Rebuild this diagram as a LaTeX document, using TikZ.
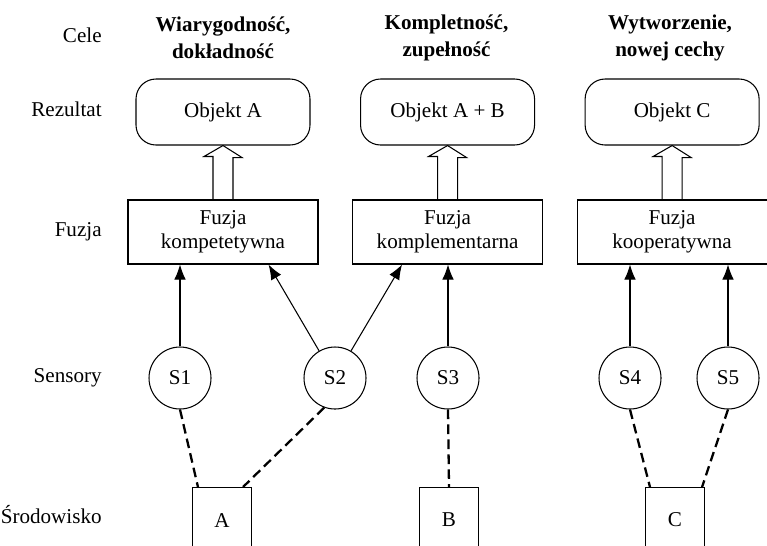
\documentclass[tikz,border=0pt]{standalone}
\usepackage{fontspec}
\setmainfont{Liberation Serif}
\usetikzlibrary{chains,arrows.meta}

\begin{document}
\begin{tikzpicture}[semithick, font=\fontsize{12}{13.5}\selectfont,
  resultnode/.style={draw,rounded corners=0.4cm,minimum width=3.48cm,minimum height=1.32cm},
  fusionnode/.style={draw,minimum width=3.8cm,minimum height=1.28cm,align=center},
  sensornode/.style={draw,circle,minimum size=1.24cm,inner sep=0pt},
  envnode/.style={draw,minimum width=1.18cm,minimum height=1.3cm,anchor=north},
  goalnode/.style={font=\fontsize{12}{15.4}\selectfont\bfseries,align=center},
  levelnode/.style={anchor=east,text height=1.6ex,text depth=0.4ex},
  sensorarrow/.style={-{Latex[length=3mm,width=2.3mm]}},
  envlink/.style={line width=1.3pt,dash pattern=on 5.5pt off 3pt}
]

\useasboundingbox (0,0) rectangle (15.34,-10.9);
\clip (0,0) rectangle (15.34,-10.9);

% the levels
\foreach \n/\y/\t in {cel/-0.76/Cele, rez/-2.24/Rezultat, fuz/-4.64/Fuzja,
                      sen/-7.56/Sensory, sro/-10.38/Środowisko}
    \node[levelnode] (\n) at (2.16,\y) {\t};

% the goals
\node[goalnode] (g1) at (4.46,-0.76) {Wiarygodność,\\dokładność};
\node[goalnode] (g2) at (8.93,-0.76) {Kompletność,\\zupełność};
\node[goalnode] (g3) at (13.40,-0.76) {Wytworzenie,\\nowej cechy};

% the results
\begin{scope}[xshift=4.46cm, yshift=-2.24cm, start chain=going right, node distance=0.99cm]
\foreach \i/\t in {1/Objekt A, 2/Objekt A + B, 3/Objekt C}
    \node[resultnode,on chain] (r\i) {\t};
\end{scope}

% the fusions
\begin{scope}[xshift=4.46cm, yshift=-4.64cm, start chain=going right, node distance=0.67cm]
\foreach \i/\t in {1/kompetetywna, 2/komplementarna, 3/kooperatywna}
    \node[fusionnode,on chain] (f\i) {Fuzja\\\t};
\end{scope}

% the hollow arrows
\foreach \i in {1,2,3}
    \draw ([xshift=-0.2cm]f\i.north) -- ++(0,0.86) -- ++(-0.18,0) -- (r\i.south)
        -- ++(0.38,-0.24) -- ++(-0.18,0) -- ++(0,-0.86);

% the sensors
\foreach \i/\x in {1/3.6, 2/6.7, 3/8.96, 4/12.6, 5/14.56}
    \node[sensornode] (s\i) at (\x,-7.56) {S\i};

% the environment
\foreach \n/\x in {A/4.44, B/8.98, C/13.5}
    \node[envnode] (e\n) at (\x,-9.74) {\n};

% sensors to fusions
\foreach \i/\j in {1/1, 3/2, 4/3, 5/3}
    \draw[sensorarrow] (s\i) -- (s\i |- f\j.south);
\draw[sensorarrow] (s2) -- ([xshift=-1cm]f1.south east);
\draw[sensorarrow] (s2) -- ([xshift=1cm]f2.south west);

% environment to sensors
\draw[envlink] (s1.south) -- ([xshift=0.12cm]eA.north west);
\draw[envlink] (s2.250) -- ([xshift=-0.18cm]eA.north east);
\draw[envlink] (s3.south) -- (eB.north);
\draw[envlink] (s4.south) -- ([xshift=0.1cm]eC.north west);
\draw[envlink] (s5.south) -- ([xshift=-0.06cm]eC.north east);

\end{tikzpicture}
\end{document}
